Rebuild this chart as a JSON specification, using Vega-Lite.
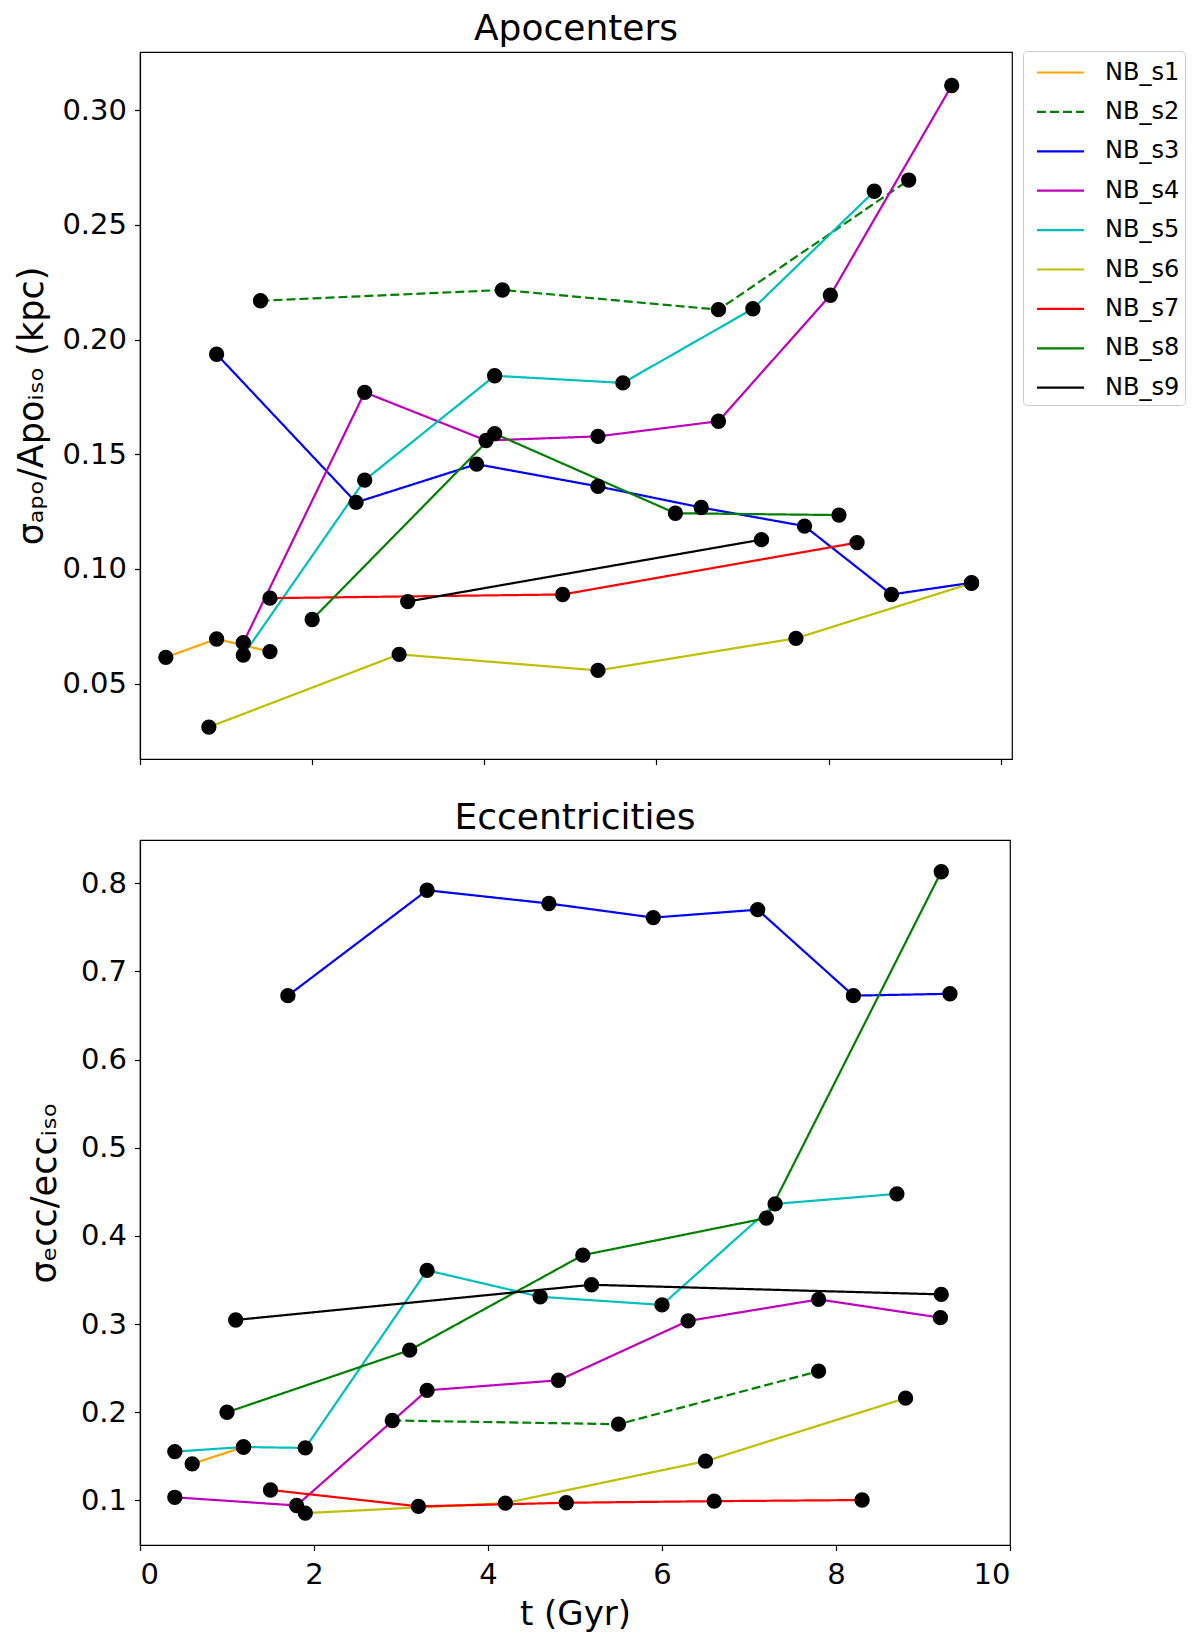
{
  "$schema": "https://vega.github.io/schema/vega-lite/v6.json",
  "background": "white",
  "padding": {"left": 14, "top": 9, "right": 5, "bottom": 5},
  "config": {
    "font": "DejaVu Sans",
    "view": {"stroke": "black", "strokeWidth": 1.2},
    "axis": {
      "domainColor": "black", "tickColor": "black", "labelColor": "black", "titleColor": "black",
      "grid": false, "labelFontSize": 29, "titleFontSize": 34, "titleFontWeight": "normal",
      "tickSize": 5.5, "labelPadding": 8, "domainWidth": 1.2, "tickWidth": 1.2,
      "labelFont": "DejaVu Sans", "titleFont": "DejaVu Sans"
    },
    "title": {"fontSize": 36, "fontWeight": "normal", "font": "DejaVu Sans", "offset": 3, "color": "black", "anchor": "middle", "frame": "group"},
    "concat": {"spacing": 33}
  },
  "datasets": {
    "apo": [
      {"sim": "NB_s1", "t": 0.30, "v": 0.0615}, {"sim": "NB_s1", "t": 0.89, "v": 0.0695}, {"sim": "NB_s1", "t": 1.51, "v": 0.0640},
      {"sim": "NB_s2", "t": 1.40, "v": 0.2169}, {"sim": "NB_s2", "t": 4.21, "v": 0.2216}, {"sim": "NB_s2", "t": 6.72, "v": 0.2130}, {"sim": "NB_s2", "t": 8.93, "v": 0.2695},
      {"sim": "NB_s3", "t": 0.89, "v": 0.1936}, {"sim": "NB_s3", "t": 2.51, "v": 0.1290}, {"sim": "NB_s3", "t": 3.91, "v": 0.1457}, {"sim": "NB_s3", "t": 5.32, "v": 0.1360}, {"sim": "NB_s3", "t": 6.52, "v": 0.1268}, {"sim": "NB_s3", "t": 7.72, "v": 0.1187}, {"sim": "NB_s3", "t": 8.73, "v": 0.0889}, {"sim": "NB_s3", "t": 9.66, "v": 0.0940},
      {"sim": "NB_s4", "t": 1.20, "v": 0.0679}, {"sim": "NB_s4", "t": 2.61, "v": 0.1770}, {"sim": "NB_s4", "t": 4.02, "v": 0.1560}, {"sim": "NB_s4", "t": 5.32, "v": 0.1578}, {"sim": "NB_s4", "t": 6.72, "v": 0.1644}, {"sim": "NB_s4", "t": 8.02, "v": 0.2193}, {"sim": "NB_s4", "t": 9.43, "v": 0.3107},
      {"sim": "NB_s5", "t": 1.20, "v": 0.0625}, {"sim": "NB_s5", "t": 2.61, "v": 0.1387}, {"sim": "NB_s5", "t": 4.12, "v": 0.1842}, {"sim": "NB_s5", "t": 5.61, "v": 0.1811}, {"sim": "NB_s5", "t": 7.12, "v": 0.2134}, {"sim": "NB_s5", "t": 8.53, "v": 0.2646},
      {"sim": "NB_s6", "t": 0.80, "v": 0.0311}, {"sim": "NB_s6", "t": 3.01, "v": 0.0628}, {"sim": "NB_s6", "t": 5.32, "v": 0.0558}, {"sim": "NB_s6", "t": 7.62, "v": 0.0698}, {"sim": "NB_s6", "t": 9.66, "v": 0.0938},
      {"sim": "NB_s7", "t": 1.51, "v": 0.0873}, {"sim": "NB_s7", "t": 4.91, "v": 0.0889}, {"sim": "NB_s7", "t": 8.33, "v": 0.1115},
      {"sim": "NB_s8", "t": 2.00, "v": 0.0780}, {"sim": "NB_s8", "t": 4.12, "v": 0.1590}, {"sim": "NB_s8", "t": 6.22, "v": 0.1243}, {"sim": "NB_s8", "t": 8.12, "v": 0.1235},
      {"sim": "NB_s9", "t": 3.11, "v": 0.0858}, {"sim": "NB_s9", "t": 7.22, "v": 0.1128}
    ],
    "ecc": [
      {"sim": "NB_s1", "t": 0.60, "v": 0.1415}, {"sim": "NB_s1", "t": 1.19, "v": 0.1606},
      {"sim": "NB_s2", "t": 2.90, "v": 0.1907}, {"sim": "NB_s2", "t": 5.50, "v": 0.1865}, {"sim": "NB_s2", "t": 7.80, "v": 0.2466},
      {"sim": "NB_s3", "t": 1.70, "v": 0.6725}, {"sim": "NB_s3", "t": 3.30, "v": 0.7920}, {"sim": "NB_s3", "t": 4.70, "v": 0.7770}, {"sim": "NB_s3", "t": 5.90, "v": 0.7610}, {"sim": "NB_s3", "t": 7.10, "v": 0.7700}, {"sim": "NB_s3", "t": 8.20, "v": 0.6725}, {"sim": "NB_s3", "t": 9.31, "v": 0.6746},
      {"sim": "NB_s4", "t": 0.40, "v": 0.1036}, {"sim": "NB_s4", "t": 1.80, "v": 0.0943}, {"sim": "NB_s4", "t": 3.30, "v": 0.2249}, {"sim": "NB_s4", "t": 4.81, "v": 0.2363}, {"sim": "NB_s4", "t": 6.30, "v": 0.3036}, {"sim": "NB_s4", "t": 7.80, "v": 0.3280}, {"sim": "NB_s4", "t": 9.20, "v": 0.3073},
      {"sim": "NB_s5", "t": 0.40, "v": 0.1554}, {"sim": "NB_s5", "t": 1.19, "v": 0.1606}, {"sim": "NB_s5", "t": 1.90, "v": 0.1596}, {"sim": "NB_s5", "t": 3.30, "v": 0.3610}, {"sim": "NB_s5", "t": 4.60, "v": 0.3310}, {"sim": "NB_s5", "t": 6.00, "v": 0.3218}, {"sim": "NB_s5", "t": 7.30, "v": 0.4363}, {"sim": "NB_s5", "t": 8.70, "v": 0.4477},
      {"sim": "NB_s6", "t": 1.90, "v": 0.0857}, {"sim": "NB_s6", "t": 4.20, "v": 0.0970}, {"sim": "NB_s6", "t": 6.50, "v": 0.1446}, {"sim": "NB_s6", "t": 8.80, "v": 0.2160},
      {"sim": "NB_s7", "t": 1.50, "v": 0.1119}, {"sim": "NB_s7", "t": 3.20, "v": 0.0933}, {"sim": "NB_s7", "t": 4.90, "v": 0.0974}, {"sim": "NB_s7", "t": 6.60, "v": 0.0992}, {"sim": "NB_s7", "t": 8.30, "v": 0.1005},
      {"sim": "NB_s8", "t": 1.00, "v": 0.2000}, {"sim": "NB_s8", "t": 3.10, "v": 0.2705}, {"sim": "NB_s8", "t": 5.09, "v": 0.3782}, {"sim": "NB_s8", "t": 7.20, "v": 0.4202}, {"sim": "NB_s8", "t": 9.21, "v": 0.8130},
      {"sim": "NB_s9", "t": 1.10, "v": 0.3047}, {"sim": "NB_s9", "t": 5.19, "v": 0.3446}, {"sim": "NB_s9", "t": 9.21, "v": 0.3337}
    ]
  },
  "resolve": {
    "scale": {"color": "independent", "strokeDash": "independent", "x": "independent", "y": "independent"},
    "legend": {"color": "independent", "strokeDash": "independent"}
  },
  "vconcat": [
    {
      "title": {"text": "Apocenters"},
      "width": 872,
      "height": 707,
      "data": {"name": "apo"},
      "encoding": {
        "x": {"field": "t", "type": "quantitative", "scale": {"domain": [0, 10.13], "nice": false, "zero": false},
              "axis": {"labels": false, "title": null, "values": [0, 2, 4, 6, 8, 10]}},
        "y": {"field": "v", "type": "quantitative", "scale": {"domain": [0.0172, 0.3253], "nice": false, "zero": false},
              "axis": {"values": [0.05, 0.10, 0.15, 0.20, 0.25, 0.30], "format": ".2f", "title": "σₐₚₒ/Apoᵢₛₒ (kpc)", "titlePadding": 12, "titleFontSize": 35}}
      },
      "layer": [
        {
          "mark": {"type": "line", "strokeWidth": 2.2},
          "encoding": {
            "color": {"field": "sim", "type": "nominal",
              "scale": {"domain": ["NB_s1","NB_s2","NB_s3","NB_s4","NB_s5","NB_s6","NB_s7","NB_s8","NB_s9"],
                        "range": ["#ffa500","#008000","#0000ff","#bf00bf","#00bfbf","#bfbf00","#ff0000","#008000","#000000"]},
              "legend": {"title": null, "orient": "none", "legendX": 883, "legendY": -1,
                "labelFontSize": 24, "labelFont": "DejaVu Sans", "labelColor": "black",
                "symbolType": "M-1.57,0H1.57", "symbolSize": 900, "symbolStrokeWidth": 2.2,
                "rowPadding": 10.4, "padding": 5, "strokeColor": "#cccccc", "fillColor": "white",
                "cornerRadius": 4, "labelOffset": 28, "symbolOffset": 16}},
            "strokeDash": {"field": "sim", "type": "nominal",
              "scale": {"domain": ["NB_s1","NB_s2","NB_s3","NB_s4","NB_s5","NB_s6","NB_s7","NB_s8","NB_s9"],
                        "range": [[1,0],[9,4],[1,0],[1,0],[1,0],[1,0],[1,0],[1,0],[1,0]]},
              "legend": {"title": null, "orient": "none", "legendX": 883, "legendY": -1,
                "labelFontSize": 24, "labelFont": "DejaVu Sans", "labelColor": "black",
                "symbolType": "M-1.57,0H1.57", "symbolSize": 900, "symbolStrokeWidth": 2.2,
                "rowPadding": 10.4, "padding": 5, "strokeColor": "#cccccc", "fillColor": "white",
                "cornerRadius": 4, "labelOffset": 28, "symbolOffset": 16}}
          }
        },
        {
          "mark": {"type": "circle", "size": 235, "color": "black", "opacity": 1},
          "encoding": {}
        }
      ]
    },
    {
      "title": {"text": "Eccentricities"},
      "width": 870,
      "height": 705,
      "data": {"name": "ecc"},
      "encoding": {
        "x": {"field": "t", "type": "quantitative", "scale": {"domain": [0, 10], "nice": false, "zero": false},
              "axis": {"values": [0, 2, 4, 6, 8, 10], "format": "d", "title": "t (Gyr)", "titlePadding": 8, "labelPadding": 10}},
        "y": {"field": "v", "type": "quantitative", "scale": {"domain": [0.0495, 0.849], "nice": false, "zero": false},
              "axis": {"values": [0.1, 0.2, 0.3, 0.4, 0.5, 0.6, 0.7, 0.8], "format": ".1f", "title": "σₑcc/eccᵢₛₒ", "titlePadding": 18, "titleFontSize": 35}}
      },
      "layer": [
        {
          "mark": {"type": "line", "strokeWidth": 2.2},
          "encoding": {
            "color": {"field": "sim", "type": "nominal",
              "scale": {"domain": ["NB_s1","NB_s2","NB_s3","NB_s4","NB_s5","NB_s6","NB_s7","NB_s8","NB_s9"],
                        "range": ["#ffa500","#008000","#0000ff","#bf00bf","#00bfbf","#bfbf00","#ff0000","#008000","#000000"]},
              "legend": null},
            "strokeDash": {"field": "sim", "type": "nominal",
              "scale": {"domain": ["NB_s1","NB_s2","NB_s3","NB_s4","NB_s5","NB_s6","NB_s7","NB_s8","NB_s9"],
                        "range": [[1,0],[9,4],[1,0],[1,0],[1,0],[1,0],[1,0],[1,0],[1,0]]},
              "legend": null}
          }
        },
        {
          "mark": {"type": "circle", "size": 235, "color": "black", "opacity": 1},
          "encoding": {}
        }
      ]
    }
  ]
}
